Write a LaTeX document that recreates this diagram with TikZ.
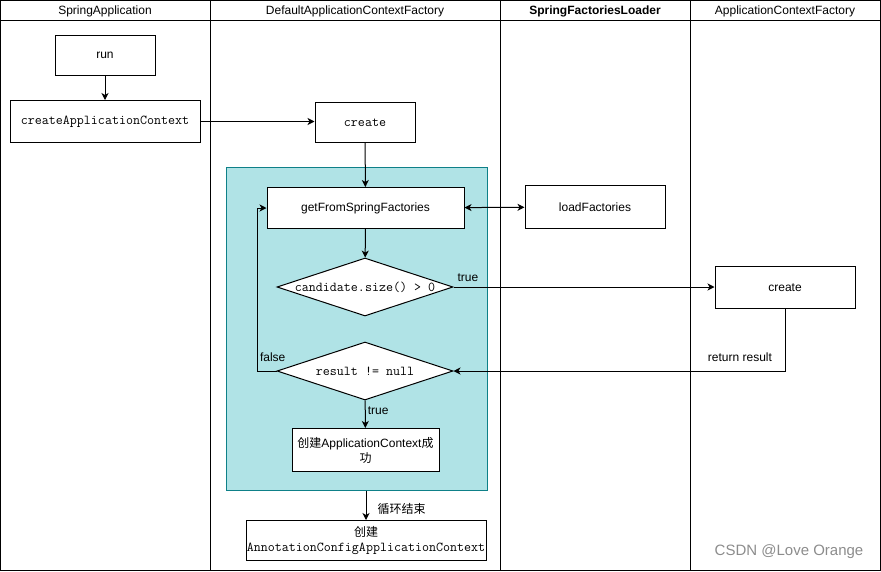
\documentclass[tikz,border=0pt]{standalone}
\usepackage{fontspec}
\setmainfont{Liberation Sans}
\newfontfamily\cjk{Noto Sans CJK SC}
\usetikzlibrary{arrows.meta,shapes.geometric,calc}
\definecolor{tealfill}{HTML}{B0E3E6}
\definecolor{tealline}{HTML}{0E8088}
\begin{document}
\begin{tikzpicture}[x=1pt,y=-1pt,line width=1pt,
  txt/.style={font=\fontsize{12}{14}\selectfont},
  mono/.style={font=\fontsize{13.6}{15}\selectfont\ttfamily},
  box/.style={draw=black,fill=white,inner sep=0pt,align=center,txt},
  dia/.style={draw=black,fill=white,diamond,inner sep=0pt,shape aspect=3.2,minimum width=176pt,minimum height=58pt,mono},
  arr/.style={draw=black,-{Stealth[length=7pt,width=7pt,inset=2pt]}},
  arrb/.style={draw=black,{Stealth[length=7pt,width=7pt,inset=2pt]}-{Stealth[length=7pt,width=7pt,inset=2pt]}},
  lbl/.style={txt,inner sep=2pt}]
\useasboundingbox (0,0) rectangle (881,571);
% lanes
\draw (0.5,0.5) rectangle (880.5,570.5);
\draw (0.5,20) -- (880.5,20);
\foreach \xx in {210,500,690} \draw (\xx,0.5) -- (\xx,570.5);
\node[txt] (h1) at (105,11) {SpringApplication};
\node[txt] (h2) at (355,11) {DefaultApplicationContextFactory};
\node[txt,font=\fontsize{12}{14}\selectfont\bfseries] (h3) at (595,11) {SpringFactoriesLoader};
\node[txt] (h4) at (785,11) {ApplicationContextFactory};
% teal container
\node[draw=tealline,fill=tealfill,minimum width=261pt,minimum height=323pt,inner sep=0pt] (teal) at (356.5,328.5) {};
% nodes
\node[box,minimum width=100pt,minimum height=40pt] (run) at (105,55.5) {run};
\node[box,mono,minimum width=190pt,minimum height=42pt] (cac) at (105,121.5) {createApplicationContext};
\node[box,mono,minimum width=100pt,minimum height=40pt] (create1) at (365,122.5) {create};
\node[box,minimum width=197pt,minimum height=41pt] (gsf) at (365.5,208) {getFromSpringFactories};
\node[box,minimum width=140pt,minimum height=43pt] (lf) at (595,207) {loadFactories};
\node[dia] (d1) at (365,287) {candidate.size() > 0};
\node[box,minimum width=140pt,minimum height=42pt] (create2) at (785,287.5) {create};
\node[dia] (d2) at (365,371) {result != null};
\node[box,minimum width=147pt,minimum height=43pt,font=\fontsize{12}{15}\selectfont] (ok) at (365.5,450) {{\cjk 创建}ApplicationContext{\cjk 成}\\{\cjk 功}};
\node[box,minimum width=240pt,minimum height=40pt,font=\fontsize{12}{15}\selectfont] (final) at (366,540.5) {{\cjk 创建}\\{\fontsize{13.6}{15}\selectfont\ttfamily AnnotationConfigApplicationContext}};
% connectors
\draw[arr] (run) -- (cac);
\draw[arr] (cac) -- (cac -| create1.west);
\draw[arr] (create1) -- (gsf);
\draw[arrb] (gsf) -- (lf);
\draw[arr] (gsf) -- (d1);
\draw[arr] (d1) -- node[lbl,above=3pt,pos=0.055] {true} (d1 -| create2.west);
\draw[arr] (create2.south) |- node[lbl,above=7pt,pos=0.568] {return result} (d2.east);
\draw[arr] (d2.west) -- node[lbl,above=7pt,pos=0.2] {false} ++(-19,0) |- (gsf.west);
\draw[arr] (d2) -- node[lbl,right,pos=0.36] {true} (ok);
\draw[arr] (final.north |- teal.south) -- node[lbl,right=9pt,pos=0.63,font=\fontsize{12}{14}\selectfont\cjk] {循环结束} (final);
% watermark
\node[font=\fontsize{15}{17}\selectfont,text=black!45] (wm) at (789,552) {CSDN @Love Orange};
\end{tikzpicture}
\end{document}
